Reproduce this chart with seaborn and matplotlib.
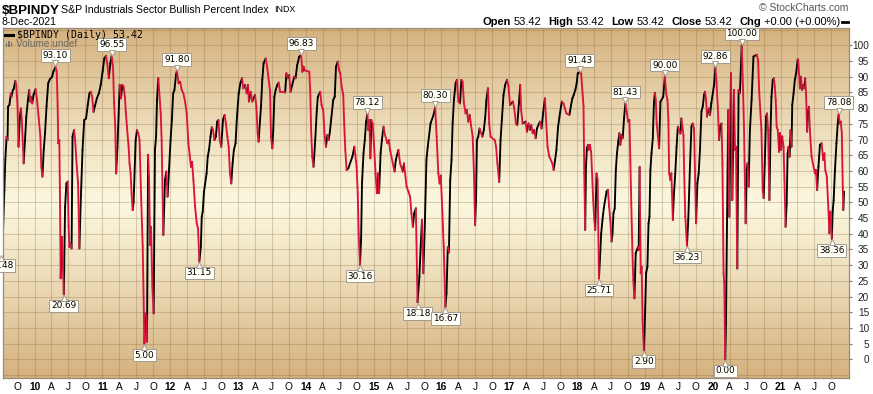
import matplotlib
matplotlib.use("Agg")
import matplotlib.pyplot as plt
import matplotlib.transforms as mtransforms
from matplotlib.lines import Line2D
from matplotlib.patches import Rectangle
import numpy as np
import pandas as pd
import seaborn as sns

W, H = 873, 394

# turning points of $BPINDY
dates = [
    "2009-07-04", "2009-07-15", "2009-07-22", "2009-07-27", "2009-08-03", "2009-08-08", "2009-08-11", "2009-08-18",
    "2009-08-26", "2009-08-29", "2009-09-06", "2009-09-11", "2009-09-19", "2009-09-24", "2009-10-01", "2009-10-06",
    "2009-10-13", "2009-10-19", "2009-10-24", "2009-11-03", "2009-11-10", "2009-11-17", "2009-11-26", "2009-12-03",
    "2009-12-08", "2009-12-13", "2009-12-19", "2009-12-26",
    "2010-01-06", "2010-01-14", "2010-01-23", "2010-02-01", "2010-02-06", "2010-02-12", "2010-02-19", "2010-02-26",
    "2010-03-06", "2010-03-15", "2010-03-24", "2010-04-05", "2010-04-12", "2010-04-23", "2010-04-30", "2010-05-05",
    "2010-05-08", "2010-05-14", "2010-05-18", "2010-05-21", "2010-05-28", "2010-06-07", "2010-06-14", "2010-06-21",
    "2010-06-28", "2010-07-03", "2010-07-07", "2010-07-14", "2010-07-19", "2010-07-24", "2010-08-01", "2010-08-07",
    "2010-08-16", "2010-08-23", "2010-08-30", "2010-09-07", "2010-09-16", "2010-09-25", "2010-10-05", "2010-10-14",
    "2010-10-23", "2010-10-30", "2010-11-07", "2010-11-14", "2010-11-21", "2010-12-02", "2010-12-13", "2010-12-23",
    "2011-01-02", "2011-01-11", "2011-01-20", "2011-01-27", "2011-02-04", "2011-02-13", "2011-02-20", "2011-02-27",
    "2011-03-05", "2011-03-11", "2011-03-16", "2011-03-23", "2011-04-04", "2011-04-11", "2011-04-18", "2011-04-25",
    "2011-05-02", "2011-05-07", "2011-05-13", "2011-05-22", "2011-05-27", "2011-06-02", "2011-06-07", "2011-06-13",
    "2011-06-18", "2011-06-29", "2011-07-06", "2011-07-13", "2011-07-20", "2011-07-29", "2011-08-06", "2011-08-15",
    "2011-08-20", "2011-08-26", "2011-08-29", "2011-09-04", "2011-09-09", "2011-09-15", "2011-09-20", "2011-09-27",
    "2011-10-04", "2011-10-11", "2011-10-17", "2011-10-22", "2011-10-29", "2011-11-06", "2011-11-11", "2011-11-16",
    "2011-11-25", "2011-12-04", "2011-12-11", "2011-12-18", "2011-12-26",
    "2012-01-03", "2012-01-10", "2012-01-17", "2012-01-24", "2012-02-01", "2012-02-06", "2012-02-15", "2012-02-24",
    "2012-03-03", "2012-03-12", "2012-03-21", "2012-03-30", "2012-04-08", "2012-04-15", "2012-04-22", "2012-04-28",
    "2012-05-05", "2012-05-14", "2012-05-23", "2012-05-30", "2012-06-06", "2012-06-14", "2012-06-19", "2012-06-24",
    "2012-07-01", "2012-07-15", "2012-07-21", "2012-07-28", "2012-08-05", "2012-08-12", "2012-08-19", "2012-08-26",
    "2012-09-03", "2012-09-10", "2012-09-17", "2012-09-24", "2012-10-02", "2012-10-11", "2012-10-20", "2012-10-27",
    "2012-11-04", "2012-11-11", "2012-11-18", "2012-11-25", "2012-12-02", "2012-12-09", "2012-12-18", "2012-12-25",
    "2013-01-04", "2013-01-13", "2013-01-22", "2013-01-29", "2013-02-07", "2013-02-16", "2013-02-23", "2013-02-28",
    "2013-03-09", "2013-03-18", "2013-04-02", "2013-04-09", "2013-04-16", "2013-04-21", "2013-04-29", "2013-05-04",
    "2013-05-11", "2013-05-18", "2013-05-29", "2013-06-06", "2013-06-22", "2013-06-27", "2013-07-04", "2013-07-09",
    "2013-07-15", "2013-07-22", "2013-07-31", "2013-08-07", "2013-08-15", "2013-09-11", "2013-09-18", "2013-09-25",
    "2013-10-03", "2013-10-10", "2013-10-30", "2013-11-06", "2013-11-15", "2013-11-26", "2013-12-06", "2013-12-13",
    "2013-12-19", "2013-12-26",
    "2014-01-19", "2014-01-24", "2014-01-29", "2014-02-04", "2014-02-11", "2014-02-20", "2014-02-28", "2014-03-06",
    "2014-03-19", "2014-03-26", "2014-04-04", "2014-04-12", "2014-04-19", "2014-04-26", "2014-05-03", "2014-05-10",
    "2014-05-28", "2014-06-05", "2014-06-12", "2014-06-21", "2014-06-28", "2014-07-05", "2014-07-12", "2014-07-21",
    "2014-07-26", "2014-08-01", "2014-08-08", "2014-08-17", "2014-09-08", "2014-09-19", "2014-09-24", "2014-10-01",
    "2014-10-07", "2014-10-12", "2014-10-19", "2014-10-25", "2014-10-30", "2014-11-07", "2014-11-14", "2014-11-21",
    "2014-11-28", "2014-12-03", "2014-12-09", "2014-12-14", "2014-12-19", "2014-12-26",
    "2015-01-02", "2015-01-11", "2015-01-18", "2015-01-25", "2015-01-30", "2015-02-07", "2015-02-14", "2015-02-23",
    "2015-02-28", "2015-03-16", "2015-03-23", "2015-03-30", "2015-04-23", "2015-04-30", "2015-05-14", "2015-05-23",
    "2015-06-06", "2015-06-13", "2015-06-27", "2015-07-07", "2015-07-16", "2015-07-23", "2015-07-31", "2015-08-07",
    "2015-08-16", "2015-08-25", "2015-09-04", "2015-09-11", "2015-09-18", "2015-09-25", "2015-10-03", "2015-10-12",
    "2015-10-19", "2015-11-03", "2015-11-19", "2015-11-28", "2015-12-06", "2015-12-15", "2015-12-22", "2015-12-28",
    "2016-01-03", "2016-01-13", "2016-01-19", "2016-01-22", "2016-01-28", "2016-02-04", "2016-02-10", "2016-02-17",
    "2016-02-24", "2016-03-01", "2016-03-08", "2016-03-17", "2016-03-24", "2016-04-01", "2016-04-10", "2016-04-17",
    "2016-04-24", "2016-05-01", "2016-05-10", "2016-05-17", "2016-05-24", "2016-06-01", "2016-06-08", "2016-06-17",
    "2016-06-24", "2016-06-30", "2016-07-05", "2016-07-10", "2016-07-17", "2016-07-24", "2016-08-08", "2016-08-16",
    "2016-08-23", "2016-08-30", "2016-09-07", "2016-09-14", "2016-09-21", "2016-10-14", "2016-10-21", "2016-10-28",
    "2016-11-07", "2016-11-14", "2016-11-21", "2016-11-30", "2016-12-09", "2016-12-19", "2016-12-27",
    "2017-01-04", "2017-01-20", "2017-01-27", "2017-02-05", "2017-02-12", "2017-02-21", "2017-02-28", "2017-03-05",
    "2017-03-13", "2017-03-29", "2017-04-05", "2017-04-14", "2017-04-21", "2017-04-29", "2017-05-06", "2017-05-14",
    "2017-05-22", "2017-05-29", "2017-06-14", "2017-06-23", "2017-07-02", "2017-07-11", "2017-07-25", "2017-08-04",
    "2017-08-20", "2017-08-27", "2017-09-04", "2017-09-11", "2017-09-20", "2017-09-30", "2017-10-10", "2017-10-19",
    "2017-10-26", "2017-11-04", "2017-11-20", "2017-11-29", "2017-12-06", "2017-12-13", "2017-12-22", "2017-12-29",
    "2018-01-04", "2018-01-15", "2018-01-22", "2018-02-04", "2018-02-08", "2018-02-13", "2018-02-17", "2018-02-22",
    "2018-02-28", "2018-03-03", "2018-03-10", "2018-03-17", "2018-03-28", "2018-04-03", "2018-04-08", "2018-04-15",
    "2018-04-21", "2018-04-28", "2018-05-05", "2018-05-10", "2018-05-17", "2018-05-24", "2018-06-08", "2018-06-15",
    "2018-06-22", "2018-06-28", "2018-07-05", "2018-07-10", "2018-07-15", "2018-07-22", "2018-07-28", "2018-08-03",
    "2018-08-10", "2018-08-16", "2018-08-21", "2018-08-26", "2018-09-03", "2018-09-10", "2018-09-17", "2018-09-24",
    "2018-10-02", "2018-10-09", "2018-10-14", "2018-10-19", "2018-10-25", "2018-10-30", "2018-11-05", "2018-11-12",
    "2018-11-18", "2018-11-25", "2018-11-28", "2018-12-03", "2018-12-09", "2018-12-14", "2018-12-19", "2018-12-26",
    "2019-01-02", "2019-01-07", "2019-01-14", "2019-01-20", "2019-01-25", "2019-01-30", "2019-02-05", "2019-02-12",
    "2019-02-18", "2019-02-23", "2019-02-28", "2019-03-05", "2019-03-18", "2019-03-25", "2019-04-09", "2019-04-18",
    "2019-04-25", "2019-05-02", "2019-05-07", "2019-05-11", "2019-05-18", "2019-05-23", "2019-05-31", "2019-06-06",
    "2019-06-13", "2019-06-20", "2019-06-27", "2019-07-11", "2019-07-16", "2019-07-27", "2019-07-31", "2019-08-06",
    "2019-08-15", "2019-08-22", "2019-08-31", "2019-09-08", "2019-09-15", "2019-09-22", "2019-09-27", "2019-10-03",
    "2019-10-10", "2019-10-17", "2019-10-24", "2019-11-01", "2019-11-08", "2019-11-15", "2019-11-20", "2019-11-26",
    "2019-12-01", "2019-12-06", "2019-12-11", "2019-12-17", "2019-12-24",
    "2020-01-08", "2020-01-15", "2020-01-21", "2020-01-28", "2020-02-04", "2020-02-11", "2020-02-17", "2020-02-22",
    "2020-02-28", "2020-03-03", "2020-03-08", "2020-03-12", "2020-03-24", "2020-03-30", "2020-04-08", "2020-04-15",
    "2020-04-24", "2020-04-30", "2020-05-05", "2020-05-12", "2020-05-19", "2020-05-26", "2020-06-05", "2020-06-12",
    "2020-06-17", "2020-06-26", "2020-07-01", "2020-07-06", "2020-07-12", "2020-07-19", "2020-07-28", "2020-08-07",
    "2020-08-25", "2020-09-01", "2020-09-07", "2020-09-19", "2020-09-26", "2020-10-01", "2020-10-07", "2020-10-14",
    "2020-10-19", "2020-10-25", "2020-11-01", "2020-11-07", "2020-11-12", "2020-11-19", "2020-11-25", "2020-11-30",
    "2020-12-05", "2020-12-10", "2020-12-16", "2020-12-23", "2020-12-28",
    "2021-01-03", "2021-01-09", "2021-01-16", "2021-01-21", "2021-01-27", "2021-02-02", "2021-02-07", "2021-02-12",
    "2021-02-18", "2021-02-23", "2021-02-28", "2021-03-04", "2021-03-11", "2021-03-18", "2021-03-25", "2021-04-02",
    "2021-04-05", "2021-04-14", "2021-04-20", "2021-04-25", "2021-05-02", "2021-05-07", "2021-05-13", "2021-05-18",
    "2021-05-23", "2021-05-29", "2021-06-02", "2021-06-07", "2021-06-16", "2021-07-04", "2021-07-09", "2021-07-16",
    "2021-07-23", "2021-07-31", "2021-08-09", "2021-08-18", "2021-08-24", "2021-08-29", "2021-09-06", "2021-09-15",
    "2021-09-20", "2021-09-25", "2021-10-03", "2021-10-08", "2021-10-13", "2021-10-20", "2021-10-28", "2021-11-04",
    "2021-11-09", "2021-11-15", "2021-11-20", "2021-11-26", "2021-12-01", "2021-12-04", "2021-12-08",
]

values = [
    33.48, 41.2, 53.9, 63.5, 70.9, 69.8, 80.5, 81.0, 84.7, 83.6, 85.8, 86.2, 88.7, 87.3, 80.5, 67.7,
    76.7, 79.9, 76.2, 62.4, 69.8, 77.2, 82.6, 85.8, 82.1, 83.6, 81.5, 84.2,
    86.0, 82.6, 76.7, 70.9, 61.3, 58.2, 66.7, 72.0, 80.5, 87.9, 89.2, 90.0, 91.6, 93.10, 91.6, 80.5,
    68.8, 69.8, 48.6, 25.8, 39.0, 20.69, 48.6, 56.0, 56.6, 42.2, 35.8, 36.9, 35.3, 70.9, 73.0, 69.8,
    61.3, 56.0, 35.3, 51.8, 66.7, 76.2, 76.7, 81.0, 84.7, 85.2, 83.6, 78.8, 80.5, 83.1, 84.7, 87.4,
    91.6, 95.8, 96.6, 94.3, 89.5, 94.3, 96.55, 93.2, 81.5, 74.1, 59.2, 67.7, 87.4, 83.1, 87.4, 86.9,
    83.6, 78.8, 74.1, 67.7, 62.4, 59.2, 52.9, 47.5, 50.2, 69.8, 73.0, 72.0, 69.8, 50.7, 35.8, 5.00,
    14.6, 13.6, 5.6, 65.1, 58.2, 36.4, 42.2, 23.1, 14.6, 66.7, 70.9, 82.6, 89.5, 82.6, 78.3, 69.8,
    39.6, 57.1, 59.8, 51.8, 60.8,
    69.8, 76.2, 84.7, 85.8, 90.5, 91.80, 87.9, 88.4, 85.8, 84.7, 82.1, 78.3, 68.8, 65.1, 61.3, 62.9,
    57.1, 48.6, 43.3, 41.7, 31.15, 35.8, 45.4, 47.0, 53.4, 59.2, 64.5, 66.7, 70.9, 73.9, 73.0, 69.8,
    70.9, 75.7, 76.2, 69.8, 67.7, 76.2, 77.8, 75.1, 70.9, 67.7, 59.2, 56.0, 62.4, 66.7, 68.8, 76.7,
    84.7, 87.9, 89.5, 86.3, 87.4, 84.7, 87.4, 82.1, 85.2, 82.1, 84.2, 80.5, 72.0, 69.3, 76.2, 80.5,
    89.0, 94.3, 95.8, 93.2, 85.2, 70.9, 67.2, 72.9, 83.6, 85.8, 87.4, 88.1, 85.2, 85.0, 91.1, 89.5,
    90.5, 85.2, 90.0, 89.5, 93.7, 96.4, 96.83, 91.6, 93.2, 92.0,
    91.6, 85.8, 73.0, 64.5, 61.3, 69.8, 78.8, 83.6, 85.2, 81.0, 79.4, 70.9, 67.7, 71.4, 69.8, 72.5,
    82.6, 83.6, 93.2, 94.8, 92.1, 91.1, 86.9, 84.2, 75.1, 66.7, 60.3, 60.8, 64.5, 67.7, 65.1, 61.3,
    52.9, 40.1, 30.16, 38.0, 56.0, 65.6, 69.8, 75.7, 78.12, 73.0, 76.2, 64.0, 76.2, 75.1,
    68.8, 59.2, 52.9, 59.2, 52.9, 65.6, 69.8, 74.1, 72.0, 68.8, 69.8, 66.7, 59.8, 63.5, 66.7, 62.4,
    59.8, 62.4, 55.0, 53.4, 51.8, 46.5, 42.2, 46.5, 48.1, 18.18, 26.3, 35.8, 44.4, 27.4, 42.2, 63.5,
    67.7, 75.1, 77.8, 80.30, 70.9, 59.2, 56.0, 58.5,
    50.8, 35.8, 23.1, 16.67, 21.0, 35.8, 34.0, 57.1, 63.5, 75.1, 82.6, 87.9, 89.0, 82.1, 81.5, 89.0,
    88.4, 81.5, 78.3, 79.4, 75.7, 77.8, 74.6, 70.9, 59.2, 42.7, 50.7, 69.8, 70.9, 73.5, 70.9, 73.0,
    76.7, 82.6, 86.3, 75.1, 70.9, 69.8, 67.7, 62.4, 56.5, 69.8, 76.2, 84.2, 87.4, 89.0, 86.9,
    81.0, 82.1, 79.9, 75.1, 74.6, 81.5, 87.4, 79.4, 75.1, 75.7, 72.5, 75.1, 73.0, 74.6, 72.0, 73.0,
    70.4, 73.5, 75.7, 73.5, 78.8, 83.1, 67.7, 64.5, 62.4, 60.3, 63.5, 66.7, 74.1, 78.3, 82.1, 81.5,
    80.0, 78.3, 77.8, 81.0, 83.1, 84.2, 85.8, 87.9,
    91.1, 91.43, 91.1, 80.5, 59.2, 41.2, 61.3, 67.2, 68.3, 66.7, 68.3, 66.1, 50.7, 44.4, 41.2, 59.2,
    57.1, 25.71, 33.8, 40.1, 44.4, 48.1, 53.4, 54.0, 48.6, 44.4, 37.5, 40.1, 46.5, 48.1, 60.3, 65.6,
    69.3, 72.0, 68.3, 71.5, 70.4, 76.7, 81.43, 79.0, 75.7, 76.2, 63.5, 49.7, 34.8, 25.2, 19.4, 33.8,
    34.8, 35.9, 34.8, 61.3, 27.4, 29.5, 12.5, 2.90,
    15.7, 27.4, 29.5, 43.3, 45.4, 60.3, 65.6, 70.4, 81.5, 84.9, 82.6, 75.1, 67.2, 82.0, 83.6, 90.00,
    84.7, 82.6, 76.2, 59.2, 57.1, 59.2, 44.4, 52.9, 59.2, 67.7, 74.1, 71.9, 76.7, 71.4, 59.2, 45.4,
    36.23, 44.4, 61.3, 74.1, 75.1, 73.5, 60.3, 43.3, 56.0, 59.2, 66.7, 78.9, 80.5, 84.2, 85.2, 82.6,
    77.3, 78.9, 79.9, 77.8, 81.5,
    87.4, 92.86, 88.4, 80.4, 69.8, 74.6, 75.1, 62.4, 27.4, 24.2, 0.00, 11.4, 79.4, 45.4, 91.1, 50.7,
    85.8, 66.7, 67.7, 28.9, 85.8, 84.7, 100.00, 85.8, 74.1, 43.3, 60.3, 62.4, 55.0, 73.0, 82.6, 96.4,
    97.0, 95.3, 85.2, 73.0, 53.9, 51.3, 62.4, 77.3, 78.3, 73.0, 50.7, 73.0, 83.6, 89.0, 89.5, 86.8,
    82.6, 74.1, 73.0, 66.1, 72.0,
    66.7, 71.0, 67.7, 57.1, 42.2, 49.7, 65.6, 67.7, 64.5, 73.0, 67.7, 81.0, 84.7, 89.0, 91.1, 95.3,
    95.5, 86.3, 90.0, 85.8, 87.4, 86.3, 89.5, 83.6, 72.5, 79.4, 80.4, 73.0, 64.5, 59.2, 60.3, 53.9,
    61.3, 68.3, 68.8, 63.5, 65.6, 60.3, 58.2, 47.5, 40.1, 47.0, 38.36, 47.5, 50.7, 60.3, 68.8, 75.1,
    78.08, 75.1, 75.7, 72.0, 55.0, 47.5, 53.42,
]

# points that carry a value flag on the chart
peak_dates = ["2010-04-23", "2011-02-20", "2012-02-06", "2013-12-06", "2014-11-28", "2015-11-28",
              "2018-01-15", "2018-09-17", "2019-04-18", "2020-01-15", "2020-06-05", "2021-11-09"]
trough_dates = ["2009-07-04", "2010-06-07", "2011-08-15", "2012-06-06", "2014-10-19", "2015-08-25",
                "2016-01-22", "2018-04-28", "2018-12-26", "2019-08-15", "2020-03-08", "2021-10-03"]

last_close = "53.42"
quote_line = [("Open", True), ("53.42", False), ("High", True), ("53.42", False), ("Low", True),
              ("53.42", False), ("Close", True), ("53.42", False), ("Chg", True), ("+0.00 (+0.00%)", False)]

UP = "#000000"
DOWN = "#DC143C"
FLAG_FACE = "#FFFFF6"
FLAG_EDGE = "#A39A90"

df = pd.DataFrame({"date": pd.to_datetime(dates), "value": values})

# split the line into two-point steps, black when rising, red when falling
rows = []
for i in range(len(df) - 1):
    way = "up" if df.value[i + 1] >= df.value[i] else "down"
    rows.append((i, way, df.date[i], df.value[i]))
    rows.append((i, way, df.date[i + 1], df.value[i + 1]))
steps = pd.DataFrame(rows, columns=["step", "way", "date", "value"])


def frac(x0, y0, x1, y1):
    return [x0 / W, 1 - y1 / H, (x1 - x0) / W, (y1 - y0) / H]


def put(x, y, s, **kw):
    kw.setdefault("family", "Liberation Sans")
    kw.setdefault("va", "baseline")
    return fig.text(x / W, 1 - y / H, s, **kw)


fig = plt.figure(figsize=(W / 100, H / 100), dpi=100)
fig.patch.set_facecolor("white")

rect = frac(2.7, 27.5, 848.7, 377.7)

# tan -> cream -> tan backdrop
bg = fig.add_axes(rect, zorder=0)
tan = np.array([213, 177, 126]) / 255
cream = np.array([251, 247, 222]) / 255
t = np.abs(np.linspace(-1, 1, 300))[:, None, None] ** 1.15
bg.imshow(cream + (tan - cream) * t, aspect="auto", extent=[0, 1, 0, 1])
bg.set_axis_off()

ax = fig.add_axes(rect, zorder=1)
ax.set_facecolor("none")
ax.set_axisbelow(True)

sns.lineplot(data=steps, x="date", y="value", hue="way", units="step", estimator=None, sort=False,
             palette={"up": UP, "down": DOWN}, legend=False, linewidth=1.35, solid_capstyle="round", ax=ax)

ax.set_xlim(pd.Timestamp("2009-07-13"), pd.Timestamp("2022-01-02"))
ax.set_ylim(-5.86, 105.67)
ax.set_xlabel("")
ax.set_ylabel("")

quarters = pd.date_range("2009-10-01", "2021-10-01", freq="QS")
ax.set_xticks(quarters)
ax.set_xticklabels([q.strftime("%y") if q.month == 1 else {4: "A", 7: "J", 10: "O"}[q.month] for q in quarters])
for q, lab in zip(quarters, ax.get_xticklabels()):
    lab.set_fontweight("bold" if q.month == 1 else "normal")
    lab.set_fontfamily("Liberation Sans")
ax.tick_params(axis="x", length=0, pad=3, labelsize=7.3)

ax.yaxis.tick_right()
ax.set_yticks(range(0, 101, 5))
ax.set_yticks([-5, 105], minor=True)
for lab in ax.get_yticklabels():
    lab.set_horizontalalignment("right")
    lab.set_fontfamily("Liberation Sans")
ax.tick_params(axis="y", which="major", direction="out", length=2.5, width=0.8, color="#7a7a7a",
               pad=12.2, labelsize=7.2, labelcolor="#222222")
ax.tick_params(axis="y", which="minor", length=0)
ax.grid(True, which="both", color="#8a6434", alpha=0.28, linewidth=0.8)
for sp in ax.spines.values():
    sp.set_color("#9b8b7b")
    sp.set_linewidth(0.9)

# value flags
marks = df.set_index("date")["value"]
for group, up in ((peak_dates, True), (trough_dates, False)):
    for when in group:
        d = pd.Timestamp(when)
        v = marks[d]
        ax.annotate(f"{v:.2f}", xy=(d, v), xytext=(0, 7 if up else -7), textcoords="offset pixels",
                    ha="center", va="bottom" if up else "top", fontsize=6.4, family="DejaVu Sans",
                    bbox=dict(boxstyle="square,pad=0.2", fc=FLAG_FACE, ec=FLAG_EDGE, lw=0.7),
                    annotation_clip=False, zorder=5)
        tip = mtransforms.offset_copy(ax.transData, fig=fig, x=0, y=3.5 if up else -3.5, units="dots")
        ax.plot([d], [v], marker="v" if up else "^", ms=4.5, mfc=FLAG_FACE, mec=FLAG_EDGE, mew=0.7,
                transform=tip, zorder=6, clip_on=False)

# header
fig.canvas.draw()
renderer = fig.canvas.get_renderer()

put(2, 13.5, r"\$BPINDY", fontsize=9.6, fontweight="bold")
title = put(61, 12.8, "S&P Industrials Sector Bullish Percent Index", fontsize=7.6)
put(title.get_window_extent(renderer).x1 + 6, 12.5, "INDX", fontsize=6.4)
put(2, 25.3, "8-Dec-2021", fontsize=7.6)
put(848, 11, "\u00a9 StockCharts.com", fontsize=7.5, ha="right", color="#555555")

fig.add_artist(Line2D([842 / W, 848 / W], [1 - 21.5 / H] * 2, lw=2.0, color="black"))
x = 840
for text, bold in reversed(quote_line):
    piece = put(x, 25.3, text, fontsize=8, ha="right", fontweight="bold" if bold else "normal")
    x = piece.get_window_extent(renderer).x0 - (3 if not bold else 7)

# legend block inside the chart
fig.add_artist(Line2D([5 / W, 13 / W], [1 - 34.5 / H] * 2, lw=2.2, color="black"))
put(17, 38.3, r"\$BPINDY (Daily) " + last_close, fontsize=7.1, family="DejaVu Sans Mono")
for bx, bh in ((5.5, 4.5), (8, 6.5), (10.5, 5.0)):
    fig.add_artist(Rectangle((bx / W, 1 - 47 / H), 1.5 / W, bh / H, color="#777777", lw=0))
put(15.5, 47.3, "Volume undef", fontsize=7.2, color="#6a6a6a")

fig.savefig("out.png", dpi=100)
